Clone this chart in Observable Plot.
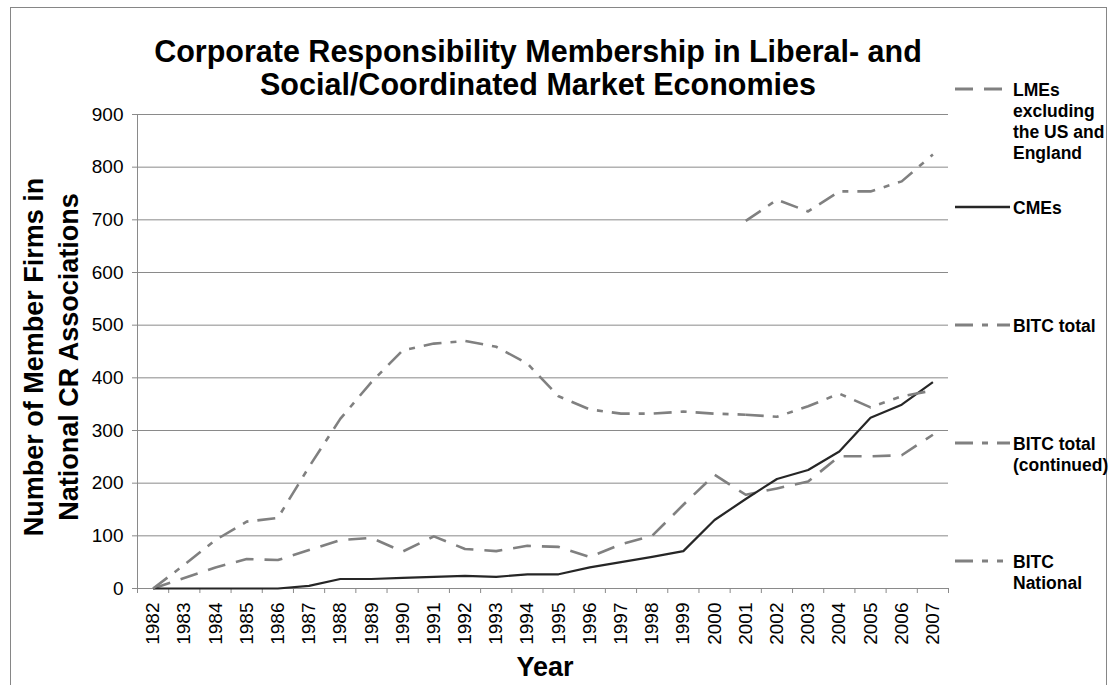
<!DOCTYPE html>
<html>
<head>
<meta charset="utf-8">
<script src="https://cdn.jsdelivr.net/npm/d3@7"></script>
<script src="https://cdn.jsdelivr.net/npm/@observablehq/plot@0.6"></script>
<style>
  html, body { margin: 0; padding: 0; background: #fff; }
  #chart { position: relative; width: 1114px; height: 685px; overflow: hidden; }
  #chart svg { display: block; }
</style>
</head>
<body>
<div id="chart"></div>
<script>
// Membership counts per year
const years = [1982, 1983, 1984, 1985, 1986, 1987, 1988, 1989, 1990, 1991, 1992, 1993, 1994,
               1995, 1996, 1997, 1998, 1999, 2000, 2001, 2002, 2003, 2004, 2005, 2006, 2007];

const lmes = [0, 20, 40, 56, 54, 73, 92, 96, 70, 99, 75, 71, 81,
              79, 60, 84, 100, 159, 216, 178, 190, 203, 251, 251, 253, 292];

const cmes = [0, 0, 0, 0, 0, 5, 18, 18, 20, 22, 24, 22, 27,
              27, 40, 50, 60, 71, 130, 170, 208, 225, 260, 324, 349, 392];

const bitcTotalYears = [1982, 1983, 1984, 1985, 1986, 1987, 1988, 1989, 1990, 1991,
                        1992, 1993, 1994, 1995, 1996, 1997, 1998, 1999, 2000, 2001];
const bitcTotal = [0, 45, 92, 127, 134, 231, 322, 392, 452, 465,
                   470, 459, 427, 365, 340, 332, 332, 336, 332, 330];

const laterYears = [2001, 2002, 2003, 2004, 2005, 2006, 2007];
const bitcTotalContinued = [698, 738, 716, 754, 754, 773, 824];
const bitcNational = [330, 326, 346, 370, 344, 365, 376];

const yTicks = [0, 100, 200, 300, 400, 500, 600, 700, 800, 900];

const seriesNames = ["LMEs excluding the US and England", "CMEs", "BITC total",
                     "BITC total (continued)", "BITC National"];
const legendLines = [["LMEs", "excluding", "the US and", "England"], ["CMEs"], ["BITC total"],
                     ["BITC total", "(continued)"], ["BITC", "National"]];
const seriesColors = ["#808080", "#262626", "#808080", "#808080", "#808080"];
const seriesDash = ["18,11", null, "18,9,6,9", "18,9,6,9", "18,9,6,9,6,9"];
const seriesWidth = [2.6, 2.2, 2.6, 2.6, 2.6];

const titleLines = ["Corporate Responsibility Membership in Liberal- and",
                    "Social/Coordinated Market Economies"];
const yLabelLines = ["Number of Member Firms in", "National CR Associations"];
const xLabel = "Year";

// Build tidy rows for each series
const seriesData = [
  years.map((year, i) => ({year, value: lmes[i]})),
  years.map((year, i) => ({year, value: cmes[i]})),
  bitcTotalYears.map((year, i) => ({year, value: bitcTotal[i]})),
  laterYears.map((year, i) => ({year, value: bitcTotalContinued[i]})),
  laterYears.map((year, i) => ({year, value: bitcNational[i]}))
];

// Category boundaries for the x tick marks
const boundaries = years.map(y => y - 0.5).concat([years[years.length - 1] + 0.5]);

const font = "'Liberation Sans', Arial, Helvetica, sans-serif";
const W = 1114, H = 685;
const mL = 137, mR = 166, mT = 114, mB = 97;
const axisGray = "#8a8a8a";

const lineMarks = seriesData.map((data, i) =>
  Plot.line(data, {
    x: "year",
    y: "value",
    stroke: seriesColors[i],
    strokeWidth: seriesWidth[i],
    strokeDasharray: seriesDash[i] ?? undefined,
    strokeLinejoin: "round",
    strokeLinecap: "butt"
  })
);

const chart = Plot.plot({
  width: W,
  height: H,
  marginLeft: mL,
  marginRight: mR,
  marginTop: mT,
  marginBottom: mB,
  style: {fontFamily: font, fontSize: "19px", color: "#000", background: "#fff", overflow: "visible"},
  x: {domain: [boundaries[0], boundaries[boundaries.length - 1]]},
  y: {domain: [0, 900]},
  marks: [
    Plot.gridY(yTicks, {stroke: axisGray, strokeOpacity: 1, strokeWidth: 1}),
    Plot.ruleX([boundaries[0]], {stroke: axisGray, strokeWidth: 1}),
    Plot.ruleY([0], {stroke: axisGray, strokeWidth: 1}),
    Plot.axisY(yTicks, {tickSize: 5, tickPadding: 9, label: null, stroke: axisGray, fill: "#000", fontSize: 19}),
    Plot.axisX(boundaries, {tickSize: 5, tickFormat: () => "", label: null, stroke: axisGray}),
    Plot.axisX(years, {tickSize: 0, tickPadding: 14, tickRotate: -90, tickFormat: d => String(d),
                       label: null, fill: "#000", fontSize: 19}),
    ...lineMarks
  ]
});

document.getElementById("chart").appendChild(chart);

const svg = d3.select(chart);

// Outer frame
svg.insert("rect", ":first-child")
  .attr("x", 10.5).attr("y", 7.5)
  .attr("width", 1096).attr("height", 720)
  .attr("fill", "#fff").attr("stroke", "#868686").attr("stroke-width", 1);

// Title
svg.append("g")
  .attr("font-family", font).attr("font-weight", "bold").attr("font-size", 30.5)
  .attr("text-anchor", "middle").attr("fill", "#000")
  .selectAll("text").data(titleLines).join("text")
  .attr("x", 538).attr("y", (d, i) => 62 + i * 33).text(d => d);

// Y axis title (two rotated lines)
svg.append("g")
  .attr("font-family", font).attr("font-weight", "bold").attr("font-size", 27)
  .attr("text-anchor", "middle").attr("fill", "#000")
  .selectAll("text").data(yLabelLines).join("text")
  .attr("transform", (d, i) => `translate(${43 + i * 35},357) rotate(-90)`)
  .text(d => d);

// X axis title
svg.append("text")
  .attr("font-family", font).attr("font-weight", "bold").attr("font-size", 27)
  .attr("text-anchor", "middle").attr("fill", "#000")
  .attr("x", 545).attr("y", 676).text(xLabel);

// Legend on the right
const legend = svg.append("g").attr("font-family", font).attr("font-weight", "bold")
  .attr("font-size", 17.5).attr("fill", "#000").attr("text-anchor", "start");
seriesNames.forEach((name, i) => {
  const yy = 89 + i * 118;
  const g = legend.append("g").attr("aria-label", name);
  g.append("line")
    .attr("x1", 955).attr("x2", 1010).attr("y1", yy).attr("y2", yy)
    .attr("stroke", seriesColors[i]).attr("stroke-width", seriesWidth[i] + 0.4)
    .attr("stroke-dasharray", seriesDash[i]);
  g.selectAll("text").data(legendLines[i]).join("text")
    .attr("x", 1013).attr("y", (d, j) => yy + 6.5 + j * 21)
    .text(d => d);
});
</script>
</body>
</html>
